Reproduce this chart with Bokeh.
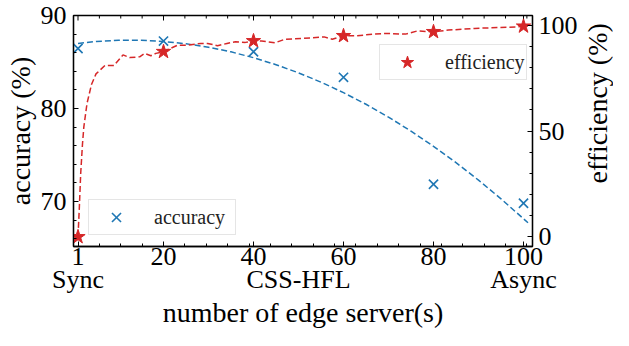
import math
from bokeh.plotting import figure
from bokeh.layouts import row
from bokeh.models import Range1d, LinearAxis, FixedTicker, Legend, LegendItem, Label
from bokeh.embed import file_html
from bokeh.resources import INLINE

# ---------------- data ----------------
servers = [1, 20, 40, 60, 80, 100]
accuracy = [86.45, 87.25, 86.1, 83.35, 71.85, 69.8]
efficiency = [0.0, 87.5, 92.6, 95.0, 96.9, 99.5]

# dashed trend curve for accuracy
acc_curve_x = [1, 5, 10, 15, 20, 25, 30, 35, 40, 45, 50, 55, 60, 65, 70, 75, 80, 85, 90, 95, 101]
acc_curve_y = [87.0, 87.2, 87.33, 87.33, 87.21, 86.96, 86.59, 86.09, 85.46, 84.71, 83.83,
               82.83, 81.70, 80.45, 79.07, 77.56, 75.93, 74.17, 72.29, 70.28, 67.7]

# dashed efficiency curve
eff_curve_x = [1, 1.3, 1.6, 2, 2.3, 3, 4, 5, 7, 9, 11, 12.5, 14.7, 15.8, 17.2, 18.3, 20, 22,
               23.2, 25.4, 28.3, 29.8, 32, 34.1, 36, 38.2, 40, 41.8, 44.8, 47, 50.6, 55.7,
               57.5, 60, 62.9, 66.6, 69.5, 73.8, 76.4, 80, 83.3, 89.1, 94.2, 98.5, 100]
eff_curve_y = [0, 14, 30, 44, 52, 63, 72, 77, 81, 81, 86, 84.7, 85.1, 86.7, 85.6, 86.7, 87.5,
               89.5, 90.6, 90.6, 91.4, 91.4, 90.3, 91.4, 92.2, 91.9, 92.6, 92.6, 91.7, 93.4,
               93.7, 94.5, 93.4, 95.0, 95.0, 95.8, 96.1, 95.8, 97.3, 96.9, 97.7, 98.5, 98.9,
               99.2, 99.5]

x_ticks = [1, 20, 40, 60, 80, 100]
x_minor = [1 + 4.75 * k for k in range(22)]
acc_ticks = [70, 80, 90]
acc_minor = list(range(66, 90, 2))
eff_ticks = [0, 50, 100]
eff_minor = list(range(0, 101, 10))
bottom_names = {1: "Sync", 50: "CSS-HFL", 100: "Async"}

BLUE = "#1f77b4"
RED = "#d62728"
FONT = "Liberation Serif"

ACC_RANGE = (65.15, 90)
H = 330
TOP = 15
BOTTOM = 94
p = figure(width=580, height=H, x_range=Range1d(0, 102), y_range=Range1d(*ACC_RANGE),
           output_backend="svg", toolbar_location=None,
           min_border_left=73, min_border_right=45, min_border_top=TOP,
           min_border_bottom=80)
p.grid.visible = False
p.outline_line_color = "black"
p.outline_line_width = 1.3
p.background_fill_color = "white"
p.border_fill_color = "white"

p.extra_y_ranges = {"eff": Range1d(-4.55, 104.6)}


def style_axis(ax, size="26px"):
    ax.major_label_text_font = FONT
    ax.major_label_text_font_size = size
    ax.major_label_text_color = "black"
    ax.axis_label_text_font = FONT
    ax.axis_label_text_font_size = "28px"
    ax.axis_label_text_font_style = "normal"
    ax.axis_label_text_color = "black"
    ax.major_tick_in = 5
    ax.major_tick_out = 0
    ax.minor_tick_in = 3
    ax.minor_tick_out = 0
    ax.major_tick_line_color = "black"
    ax.minor_tick_line_color = "black"
    ax.axis_line_color = "black"
    ax.axis_line_width = 1.3


# bottom numeric axis
xa = p.xaxis[0]
xa.ticker = FixedTicker(ticks=x_ticks, minor_ticks=x_minor)
style_axis(xa)
xa.major_label_standoff = 1

# second bottom axis with regime names + axis title
xb = LinearAxis(ticker=FixedTicker(ticks=list(bottom_names.keys())),
                major_label_overrides=bottom_names)
style_axis(xb)
xb.major_tick_in = 0
xb.minor_tick_in = 0
xb.axis_line_color = None
xb.major_label_standoff = -3
xb.axis_label = "number of edge server(s)"
xb.axis_label_standoff = 0
p.add_layout(xb, "below")

# left axis
ya = p.yaxis[0]
ya.ticker = FixedTicker(ticks=acc_ticks, minor_ticks=acc_minor)
style_axis(ya)
ya.axis_label = "accuracy (%)"
ya.major_label_standoff = 7
ya.axis_label_standoff = 2

# right axis
yr = LinearAxis(y_range_name="eff", ticker=FixedTicker(ticks=eff_ticks, minor_ticks=eff_minor))
style_axis(yr)
yr.major_label_standoff = 6
p.add_layout(yr, "right")

# mirrored x ticks on the top edge (half of each dash is clipped by the frame)
top_y = ACC_RANGE[1]
p.scatter(x_ticks, [top_y] * len(x_ticks), marker="dash", angle=math.pi / 2, size=10,
          line_color="black", line_width=1)
p.scatter([m for m in x_minor if m not in x_ticks], [top_y] * (len(x_minor) - 1),
          marker="dash", angle=math.pi / 2, size=6, line_color="black", line_width=1)

# curves
p.line(acc_curve_x, acc_curve_y, line_color=BLUE, line_width=1.5, line_dash="6 3")
p.line(eff_curve_x, eff_curve_y, line_color=RED, line_width=1.5, line_dash="6 3",
       y_range_name="eff")

acc_r = p.scatter(servers, accuracy, marker="x", size=13, line_color=BLUE, line_width=1.6)
eff_r = p.scatter(servers, efficiency, marker="star", size=15, fill_color=RED,
                  line_color=RED, y_range_name="eff")


def make_legend(item, renderer, loc):
    lg = Legend(items=[LegendItem(label=item, renderers=[renderer])], location=loc)
    lg.label_text_font = FONT
    lg.label_text_font_size = "20px"
    lg.label_text_color = "#222222"
    lg.border_line_color = "#cccccc"
    lg.border_line_width = 1.2
    lg.background_fill_alpha = 0.85
    lg.padding = 1
    lg.margin = 0
    lg.spacing = 0
    lg.glyph_width = 52
    lg.glyph_height = 32
    lg.label_standoff = 12
    lg.label_width = 80
    lg.label_height = 32
    return lg


p.add_layout(make_legend("accuracy", acc_r, (15, 11)), "center")
p.add_layout(make_legend("efficiency", eff_r, (306, 166)), "center")

# right-hand title, reading bottom-to-top, in a narrow companion figure
frame_mid_from_bottom = H - (TOP + (H - TOP - BOTTOM) / 2)
p2 = figure(width=33, height=H, x_range=Range1d(0, 1), y_range=Range1d(0, H),
            output_backend="svg", toolbar_location=None,
            x_axis_location=None, y_axis_location=None, min_border=0)
p2.grid.visible = False
p2.outline_line_color = None
p2.background_fill_color = "white"
p2.border_fill_color = "white"
p2.add_layout(Label(x=0.5, y=frame_mid_from_bottom, text="efficiency (%)", angle=math.pi / 2,
                    text_align="center", text_baseline="middle", text_font=FONT,
                    text_font_size="28px", text_color="black"))

layout = row(p, p2, spacing=0)
open("out.html", "w").write(file_html(layout, INLINE))
